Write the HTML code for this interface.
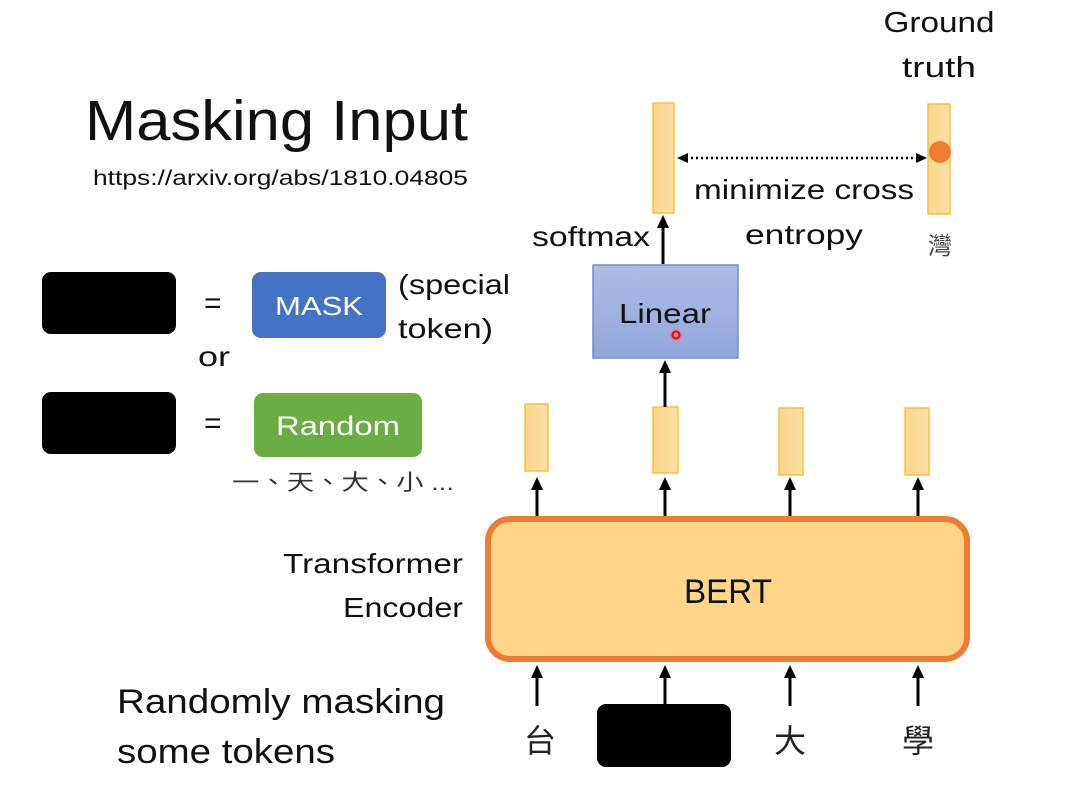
<!DOCTYPE html>
<html><head><meta charset="utf-8"><style>
html,body{margin:0;padding:0;background:#fff;}
svg{display:block;}
text{font-family:"Liberation Sans","Noto Sans CJK TC",sans-serif;fill:#111;}
</style></head><body>
<svg width="1080" height="790" viewBox="0 0 1080 790" xmlns="http://www.w3.org/2000/svg">
<defs>
<linearGradient id="bl" x1="0" y1="0" x2="0" y2="1"><stop offset="0" stop-color="#aebde4"/><stop offset="1" stop-color="#90a6db"/></linearGradient>
<linearGradient id="yb" x1="0" y1="0" x2="1" y2="0"><stop offset="0" stop-color="#fdd68a"/><stop offset="1" stop-color="#fde0a6"/></linearGradient>
</defs>

<!-- title -->
<text x="85" y="140" font-size="57" textLength="383" lengthAdjust="spacingAndGlyphs">Masking Input</text>
<text x="93" y="185" font-size="21" textLength="375" lengthAdjust="spacingAndGlyphs">https://arxiv.org/abs/1810.04805</text>

<!-- legend -->
<rect x="42" y="272" width="134" height="62" rx="9" fill="#000"/>
<text x="204" y="313" font-size="30">=</text>
<rect x="252" y="272" width="134" height="66" rx="9" fill="#4472c4"/>
<text x="319" y="315" font-size="26" text-anchor="middle" style="fill:#fff" textLength="88" lengthAdjust="spacingAndGlyphs">MASK</text>
<text x="398" y="294" font-size="28" textLength="112" lengthAdjust="spacingAndGlyphs">(special</text>
<text x="398" y="338" font-size="28" textLength="95" lengthAdjust="spacingAndGlyphs">token)</text>
<text x="198" y="366" font-size="28" textLength="32" lengthAdjust="spacingAndGlyphs">or</text>
<rect x="42" y="392" width="134" height="62" rx="9" fill="#000"/>
<text x="204" y="433" font-size="30">=</text>
<rect x="254" y="393" width="168" height="64" rx="9" fill="#6aad45"/>
<text x="338" y="435" font-size="27" text-anchor="middle" style="fill:#fff" textLength="124" lengthAdjust="spacingAndGlyphs">Random</text>
<text x="232" y="490" font-size="22" style="fill:#333" textLength="222" lengthAdjust="spacingAndGlyphs">一、天、大、小 ...</text>

<!-- top part -->
<text x="939" y="32" font-size="29" text-anchor="middle" textLength="111" lengthAdjust="spacingAndGlyphs">Ground</text>
<text x="939" y="77" font-size="29" text-anchor="middle" textLength="74" lengthAdjust="spacingAndGlyphs">truth</text>
<rect x="653" y="103" width="21" height="110" fill="url(#yb)" stroke="#f5c242" stroke-width="1.5"/>
<rect x="928" y="104" width="22" height="110" fill="url(#yb)" stroke="#f5c242" stroke-width="1.5"/>
<circle cx="940" cy="152" r="11" fill="#ed7d31"/>
<line x1="686" y1="158" x2="917" y2="158" stroke="#000" stroke-width="2.5" stroke-dasharray="2,3"/>
<path d="M677,158 L688,153 L688,163 z" fill="#000"/>
<path d="M927,158 L916,153 L916,163 z" fill="#000"/>
<text x="804" y="199" font-size="28" text-anchor="middle" textLength="220" lengthAdjust="spacingAndGlyphs">minimize cross</text>
<text x="804" y="244" font-size="28" text-anchor="middle" textLength="118" lengthAdjust="spacingAndGlyphs">entropy</text>
<text x="940" y="254" font-size="24" text-anchor="middle" style="fill:#444">灣</text>
<text x="650" y="246" font-size="28" text-anchor="end" textLength="118" lengthAdjust="spacingAndGlyphs">softmax</text>
<line x1="663" y1="264" x2="663" y2="226" stroke="#000" stroke-width="3"/>
<path d="M663,215 L657,228 L669,228 z" fill="#000"/>

<rect x="593" y="265" width="145" height="93" fill="url(#bl)" stroke="#6f8dc8" stroke-width="1.5"/>
<text x="665" y="323" font-size="28" text-anchor="middle" textLength="92" lengthAdjust="spacingAndGlyphs">Linear</text>
<circle cx="676" cy="335" r="6" fill="#f66" opacity="0.5"/>
<circle cx="676" cy="335" r="3.5" fill="none" stroke="#e00" stroke-width="2"/>

<!-- bars -->
<rect x="525" y="404" width="23" height="67" fill="url(#yb)" stroke="#f5c242" stroke-width="1.5"/>
<rect x="653" y="407" width="25" height="66" fill="url(#yb)" stroke="#f5c242" stroke-width="1.5"/>
<rect x="779" y="408" width="24" height="67" fill="url(#yb)" stroke="#f5c242" stroke-width="1.5"/>
<rect x="905" y="408" width="24" height="67" fill="url(#yb)" stroke="#f5c242" stroke-width="1.5"/>
<line x1="665" y1="407" x2="665" y2="370" stroke="#000" stroke-width="3"/>
<path d="M665,360 L659,373 L671,373 z" fill="#000"/>

<g stroke="#000" stroke-width="3">
<line x1="537" y1="517" x2="537" y2="489"/><line x1="665" y1="517" x2="665" y2="489"/>
<line x1="790" y1="517" x2="790" y2="489"/><line x1="918" y1="517" x2="918" y2="489"/>
<line x1="537" y1="706" x2="537" y2="677"/><line x1="665" y1="706" x2="665" y2="677"/>
<line x1="790" y1="706" x2="790" y2="677"/><line x1="918" y1="706" x2="918" y2="677"/>
</g>
<g fill="#000">
<path d="M537,477 L531,490 L543,490 z"/><path d="M665,477 L659,490 L671,490 z"/>
<path d="M790,477 L784,490 L796,490 z"/><path d="M918,477 L912,490 L924,490 z"/>
<path d="M537,665 L531,678 L543,678 z"/><path d="M665,665 L659,678 L671,678 z"/>
<path d="M790,665 L784,678 L796,678 z"/><path d="M918,665 L912,678 L924,678 z"/>
</g>

<rect x="488" y="519" width="479" height="140" rx="22" fill="#fdd68a" stroke="#ed7d31" stroke-width="6"/>
<text x="728" y="603" font-size="34" text-anchor="middle" textLength="88" lengthAdjust="spacingAndGlyphs">BERT</text>
<text x="463" y="573" font-size="28" text-anchor="end" textLength="180" lengthAdjust="spacingAndGlyphs">Transformer</text>
<text x="463" y="617" font-size="28" text-anchor="end" textLength="120" lengthAdjust="spacingAndGlyphs">Encoder</text>

<rect x="597" y="704" width="134" height="63" rx="9" fill="#000"/>
<text x="540" y="752" font-size="32" text-anchor="middle" style="fill:#222">台</text>
<text x="790" y="752" font-size="32" text-anchor="middle" style="fill:#222">大</text>
<text x="918" y="752" font-size="32" text-anchor="middle" style="fill:#222">學</text>

<text x="117" y="713" font-size="34" textLength="328" lengthAdjust="spacingAndGlyphs">Randomly masking</text>
<text x="117" y="763" font-size="34" textLength="218" lengthAdjust="spacingAndGlyphs">some tokens</text>
</svg>
</body></html>
